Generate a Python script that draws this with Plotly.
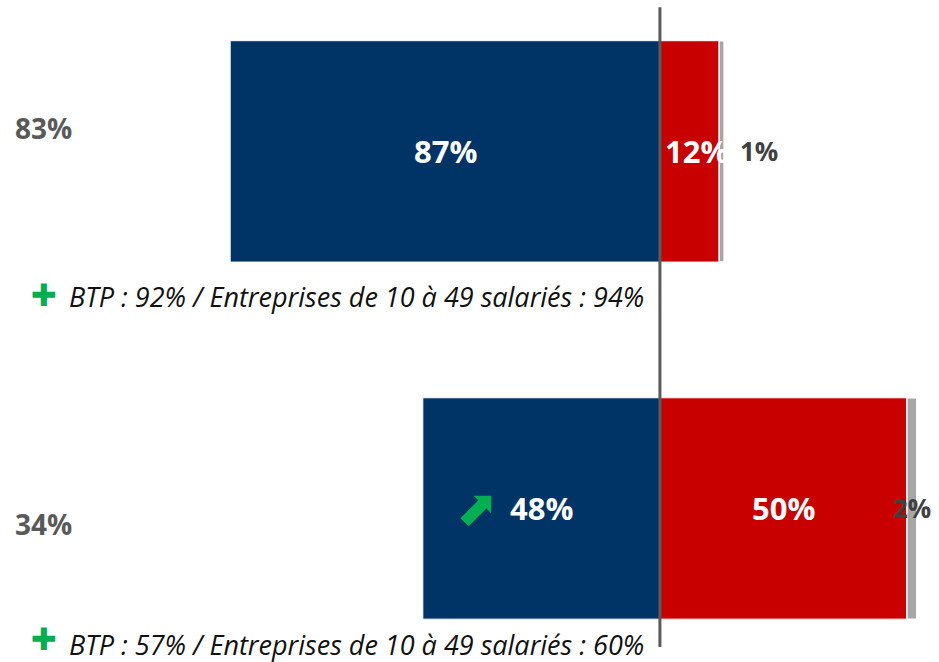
import plotly.graph_objects as go

# two rows, top to bottom
rows = [0, 1]
left_totals = ["83%", "34%"]
oui = [87, 48]      # blue, drawn to the left of the centre line
non = [12, 50]      # red, right of the centre line
nsp = [1, 2]        # grey, stacked after the red
notes = [
    "BTP : 92% / Entreprises de 10 à 49 salariés : 94%",
    "BTP : 57% / Entreprises de 10 à 49 salariés : 60%",
]

BLUE = "#003366"
RED = "#C90000"
GREY = "#A6A6A6"
DARK = "#404040"
GREEN = "#00B050"

fig = go.Figure()
fig.add_trace(go.Bar(y=rows, x=[-v for v in oui], orientation="h", width=0.62,
                     marker=dict(color=BLUE, line=dict(color="white", width=1)),
                     hoverinfo="skip"))
fig.add_trace(go.Bar(y=rows, x=non, orientation="h", width=0.62,
                     marker=dict(color=RED, line=dict(color="white", width=1)),
                     hoverinfo="skip"))
fig.add_trace(go.Bar(y=rows, x=nsp, orientation="h", width=0.62,
                     marker=dict(color=GREY, line=dict(color="white", width=1.5)),
                     hoverinfo="skip"))

big = dict(family="Open Sans", size=31, color="white")

# value labels
for i in rows:
    fig.add_annotation(x=-oui[i] / 2, y=i, text=f"<b>{oui[i]}%</b>", showarrow=False,
                       font=big, xanchor="center", yanchor="middle")
# red labels: top one overflows past the bar, so anchor left at centre
fig.add_annotation(x=0.6, y=0, text=f"<b>{non[0]}%</b>", showarrow=False,
                   font=big, xanchor="left", yanchor="middle")
fig.add_annotation(x=non[1] / 2, y=1, text=f"<b>{non[1]}%</b>", showarrow=False,
                   font=big, xanchor="center", yanchor="middle")
# grey labels
fig.add_annotation(x=non[0] + nsp[0] + 2.8, y=0, text=f"<b>{nsp[0]}%</b>", showarrow=False,
                   font=dict(family="Open Sans", size=26, color=DARK),
                   xanchor="left", yanchor="middle")
fig.add_annotation(x=non[1] + nsp[1] - 1, y=1, text=f"<b>{nsp[1]}%</b>", showarrow=False,
                   font=dict(family="Open Sans", size=26, color=DARK),
                   xanchor="center", yanchor="middle")

# green up arrow in the bottom blue bar
fig.add_annotation(x=-oui[1] * 0.77, y=1, text="⬈", showarrow=False,
                   xanchor="center", yanchor="middle",
                   font=dict(family="DejaVu Sans", size=50, color=GREEN))

# totals on the left
for i, yp in zip(rows, [0.807, 0.2085]):
    fig.add_annotation(x=0.014, y=yp, xref="paper", yref="paper", text=f"<b>{left_totals[i]}</b>",
                       showarrow=False, xanchor="left", yanchor="middle",
                       font=dict(family="Open Sans", size=28, color="#595959"))

# notes under each bar
for i, yp in zip(rows, [0.554, 0.034]):
    fig.add_annotation(x=0.031, y=yp, xref="paper", yref="paper", text="✚",
                       showarrow=False, xanchor="left", yanchor="middle",
                       font=dict(family="DejaVu Sans", size=31, color=GREEN))
    fig.add_annotation(x=0.071, y=0.554 - 0.002 if i == 0 else 0.026, xref="paper", yref="paper",
                       text=f"<i>{notes[i]}</i>",
                       showarrow=False, xanchor="left", yanchor="middle",
                       font=dict(family="Open Sans", size=27, color="#111111"))

# centre line
fig.add_shape(type="line", xref="x", yref="paper", x0=0, x1=0, y0=0.0227, y1=0.989,
              line=dict(color="#5A5A5A", width=3))

fig.update_layout(
    barmode="relative",
    width=939, height=662,
    margin=dict(l=0, r=0, t=0, b=0),
    plot_bgcolor="white", paper_bgcolor="white",
    showlegend=False,
    xaxis=dict(range=[-133.6, 56.5], visible=False, fixedrange=True),
    yaxis=dict(range=[1.43, -0.424], visible=False, fixedrange=True),
)

fig.write_html("out.html", config={"displayModeBar": False},
               post_script="document.body.style.margin='0';document.body.style.overflow='hidden';")
